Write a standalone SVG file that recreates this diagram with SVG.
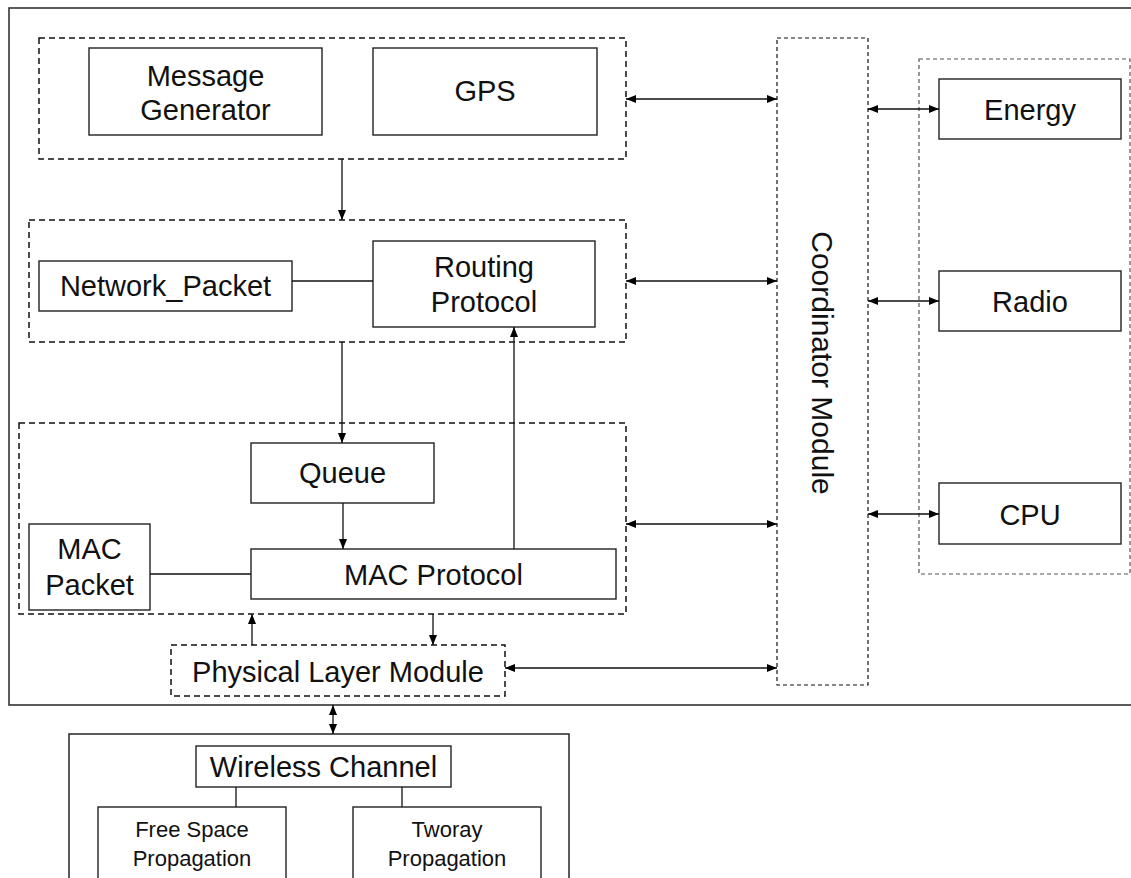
<svg xmlns="http://www.w3.org/2000/svg" width="1131" height="878" viewBox="0 0 1131 878">
  <style>
    text { font-family: "Liberation Sans", Arial, Helvetica, sans-serif; fill: #111; }
    .t { font-size: 29px; text-anchor: middle; }
    .s { font-size: 22px; text-anchor: middle; }
    .box { fill: #fff; stroke: #222; stroke-width: 1.4; }
    .frame { fill: none; stroke: #333; stroke-width: 1.6; }
    .grp { fill: none; stroke: #111; stroke-width: 1.5; stroke-dasharray: 6 4; }
    .coord { fill: none; stroke: #111; stroke-width: 1.2; stroke-dasharray: 4 3; }
    .hw { fill: none; stroke: #555; stroke-width: 1.2; stroke-dasharray: 4 3; }
    .ln { fill: none; stroke: #111; stroke-width: 1.3; }
    .ar { fill: none; stroke: #111; stroke-width: 1.3; marker-end: url(#ah); }
    .ar2 { fill: none; stroke: #111; stroke-width: 1.3; marker-start: url(#ah); marker-end: url(#ah); }
  </style>
  <defs>
    <marker id="ah" viewBox="0 0 10 8" refX="10" refY="4" markerWidth="10" markerHeight="8" markerUnits="userSpaceOnUse" orient="auto-start-reverse">
      <path d="M0,0 L10,4 L0,8 z" fill="#000"/>
    </marker>
  </defs>

  <rect width="1131" height="878" fill="#fff"/>

  <!-- node frame -->
  <rect class="frame" x="9" y="8" width="1140" height="697"/>

  <!-- application layer group -->
  <g id="app-layer">
    <rect class="grp" x="39" y="38" width="587" height="121"/>
  </g>
  <g id="message-generator">
    <rect class="box" x="89" y="48" width="233" height="87"/>
    <text class="t" x="205.5" y="86">Message</text>
    <text class="t" x="205.5" y="120">Generator</text>
  </g>
  <g id="gps">
    <rect class="box" x="373" y="48" width="224" height="87"/>
    <text class="t" x="485" y="101">GPS</text>
  </g>

  <!-- network layer group -->
  <g id="network-layer">
    <rect class="grp" x="29" y="220" width="597" height="122"/>
  </g>
  <g id="network-packet">
    <rect class="box" x="39" y="261" width="253" height="50"/>
    <text class="t" x="165.5" y="296">Network_Packet</text>
  </g>
  <g id="routing-protocol">
    <rect class="box" x="373" y="241" width="222" height="86"/>
    <text class="t" x="484" y="277">Routing</text>
    <text class="t" x="484" y="312">Protocol</text>
  </g>

  <!-- MAC layer group -->
  <g id="mac-layer">
    <rect class="grp" x="19" y="423" width="607" height="191"/>
  </g>
  <g id="queue">
    <rect class="box" x="251" y="443" width="183" height="60"/>
    <text class="t" x="342.5" y="483">Queue</text>
  </g>
  <g id="mac-packet">
    <rect class="box" x="29" y="524" width="121" height="86"/>
    <text class="t" x="89.5" y="559">MAC</text>
    <text class="t" x="89.5" y="595">Packet</text>
  </g>
  <g id="mac-protocol">
    <rect class="box" x="251" y="549" width="365" height="50"/>
    <text class="t" x="433.5" y="585">MAC Protocol</text>
  </g>

  <!-- physical layer -->
  <g id="physical-layer">
    <rect class="grp" x="171" y="645" width="334" height="51" fill="#fff"/>
    <text class="t" x="338" y="682">Physical Layer Module</text>
  </g>

  <!-- coordinator -->
  <g id="coordinator">
    <rect class="coord" x="777" y="38" width="91" height="647"/>
    <text class="t" font-size="30" transform="translate(822,363) rotate(90)" x="0" y="10" style="font-size:30px">Coordinator Module</text>
  </g>

  <!-- hardware group -->
  <g id="hardware">
    <rect class="hw" x="919" y="59" width="211" height="515"/>
  </g>
  <g id="energy">
    <rect class="box" x="939" y="79" width="182" height="60"/>
    <text class="t" x="1030" y="120">Energy</text>
  </g>
  <g id="radio">
    <rect class="box" x="939" y="271" width="182" height="60"/>
    <text class="t" x="1030" y="312">Radio</text>
  </g>
  <g id="cpu">
    <rect class="box" x="939" y="483" width="182" height="61"/>
    <text class="t" x="1030" y="525">CPU</text>
  </g>

  <!-- wireless channel -->
  <g id="channel">
    <rect class="frame" x="69" y="734" width="500" height="160"/>
  </g>
  <g id="wireless-channel">
    <rect class="box" x="196" y="746" width="255" height="41"/>
    <text class="t" x="323.5" y="777">Wireless Channel</text>
  </g>
  <g id="free-space">
    <rect class="box" x="98" y="807" width="188" height="80"/>
    <text class="s" x="192" y="837">Free Space</text>
    <text class="s" x="192" y="866">Propagation</text>
  </g>
  <g id="tworay">
    <rect class="box" x="353" y="807" width="188" height="80"/>
    <text class="s" x="447" y="837">Tworay</text>
    <text class="s" x="447" y="866">Propagation</text>
  </g>

  <!-- connectors -->
  <g id="connectors">
    <line class="ar2" x1="626" y1="99" x2="777" y2="99"/>
    <line class="ar2" x1="626" y1="281" x2="777" y2="281"/>
    <line class="ar2" x1="626" y1="524" x2="777" y2="524"/>
    <line class="ar2" x1="505" y1="668" x2="777" y2="668"/>
    <line class="ar2" x1="868" y1="109" x2="939" y2="109"/>
    <line class="ar2" x1="868" y1="301" x2="939" y2="301"/>
    <line class="ar2" x1="868" y1="514" x2="939" y2="514"/>
    <line class="ar" x1="342" y1="159" x2="342" y2="220"/>
    <line class="ar" x1="342" y1="342" x2="342" y2="443"/>
    <line class="ar" x1="343" y1="503" x2="343" y2="549"/>
    <line class="ar" x1="514" y1="549" x2="514" y2="327"/>
    <line class="ar" x1="252" y1="645" x2="252" y2="614"/>
    <line class="ar" x1="433" y1="614" x2="433" y2="645"/>
    <line class="ln" x1="292" y1="281" x2="373" y2="281"/>
    <line class="ln" x1="150" y1="574" x2="251" y2="574"/>
    <line class="ln" x1="236" y1="787" x2="236" y2="807"/>
    <line class="ln" x1="402" y1="787" x2="402" y2="807"/>
    <line class="ar2" x1="333" y1="705" x2="333" y2="734"/>
  </g>
</svg>
